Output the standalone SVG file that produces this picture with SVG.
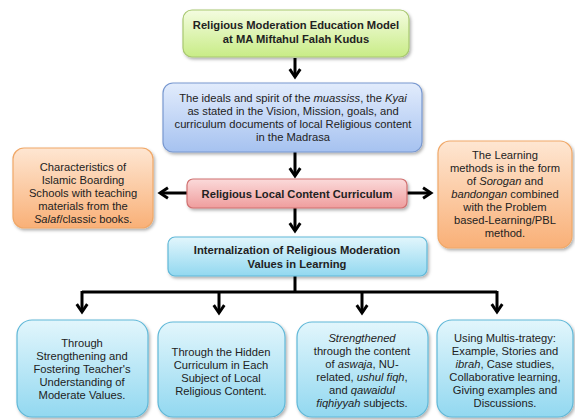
<svg xmlns="http://www.w3.org/2000/svg" width="575" height="420" viewBox="0 0 575 420">
<style>
text{font-family:"Liberation Sans",Arial,sans-serif;font-size:11.2px;fill:#222;text-anchor:middle}
.b{font-weight:bold}
.con{stroke:#000;stroke-width:3;fill:none}
.box{stroke-width:1.2}
</style>
<defs>
<linearGradient id="gG" x1="0" y1="0" x2="0" y2="1"><stop offset="0" stop-color="#f4fce0"/><stop offset="1" stop-color="#c8ec86"/></linearGradient>
<linearGradient id="gB" x1="0" y1="0" x2="0" y2="1"><stop offset="0" stop-color="#e2ecfc"/><stop offset="1" stop-color="#a6c2f0"/></linearGradient>
<linearGradient id="gO" x1="0" y1="0" x2="0" y2="1"><stop offset="0" stop-color="#fee6d2"/><stop offset="1" stop-color="#f9b077"/></linearGradient>
<linearGradient id="gP" x1="0" y1="0" x2="0" y2="1"><stop offset="0" stop-color="#fbdada"/><stop offset="1" stop-color="#ef9d9d"/></linearGradient>
<linearGradient id="gC" x1="0" y1="0" x2="0" y2="1"><stop offset="0" stop-color="#e2f6fc"/><stop offset="1" stop-color="#92d8f0"/></linearGradient>
<filter id="sh" x="-10%" y="-10%" width="125%" height="130%"><feDropShadow dx="1.5" dy="2" stdDeviation="1.5" flood-color="#000" flood-opacity="0.3"/></filter>
<marker id="ah" viewBox="0 0 10 10" refX="8" refY="5" markerWidth="4.4" markerHeight="4.4" orient="auto" markerUnits="strokeWidth"><polyline points="2,1 8,5 2,9" fill="none" stroke="#000" stroke-width="2.2"/></marker>
</defs>

<g id="connectors">
<line class="con" x1="295" y1="58" x2="295" y2="77" marker-end="url(#ah)"/>
<line class="con" x1="295" y1="152" x2="295" y2="176" marker-end="url(#ah)"/>
<line class="con" x1="187" y1="193" x2="160" y2="193" marker-end="url(#ah)"/>
<line class="con" x1="407" y1="193" x2="431" y2="193" marker-end="url(#ah)"/>
<line class="con" x1="295" y1="208" x2="295" y2="231" marker-end="url(#ah)"/>
<polyline class="con" points="295,276 295,292"/>
<polyline class="con" points="82,292 497,292"/>
<line class="con" x1="82" y1="291" x2="82" y2="312" marker-end="url(#ah)"/>
<line class="con" x1="219" y1="291" x2="219" y2="313" marker-end="url(#ah)"/>
<line class="con" x1="362" y1="291" x2="362" y2="313" marker-end="url(#ah)"/>
<line class="con" x1="497" y1="291" x2="497" y2="312" marker-end="url(#ah)"/>
</g>

<g id="title">
<rect class="box" x="183" y="10" width="226" height="47" rx="9" fill="url(#gG)" stroke="#a8c870" filter="url(#sh)"/>
<text class="b" x="296" y="29">Religious Moderation Education Model</text>
<text class="b" x="296" y="43">at MA Miftahul Falah Kudus</text>
</g>

<g id="ideals">
<rect class="box" x="163" y="83" width="259" height="69" rx="10" fill="url(#gB)" stroke="#7898d0" filter="url(#sh)"/>
<text x="293" y="102">The ideals and spirit of the <tspan font-style="italic">muassiss</tspan>, the <tspan font-style="italic">Kyai</tspan></text>
<text x="293" y="115">as stated in the Vision, Mission, goals, and</text>
<text x="293" y="128">curriculum documents of local Religious content</text>
<text x="293" y="141">in the Madrasa</text>
</g>

<g id="characteristics">
<rect class="box" x="13" y="148" width="140" height="80" rx="11" fill="url(#gO)" stroke="#f0a868" filter="url(#sh)"/>
<text x="83" y="171">Characteristics of</text>
<text x="83" y="184">Islamic Boarding</text>
<text x="83" y="197">Schools with teaching</text>
<text x="83" y="210">materials from the</text>
<text x="83" y="223"><tspan font-style="italic">Salaf</tspan>/classic books.</text>
</g>

<g id="methods">
<rect class="box" x="438" y="141" width="134" height="107" rx="12" fill="url(#gO)" stroke="#f0a868" filter="url(#sh)"/>
<text x="505" y="159">The Learning</text>
<text x="505" y="172">methods is in the form</text>
<text x="505" y="185">of <tspan font-style="italic">Sorogan</tspan> and</text>
<text x="505" y="198"><tspan font-style="italic">bandongan</tspan> combined</text>
<text x="505" y="211">with the Problem</text>
<text x="505" y="224">based-Learning/PBL</text>
<text x="505" y="237">method.</text>
</g>

<g id="curriculum">
<rect class="box" x="187" y="179" width="220" height="29" rx="6" fill="url(#gP)" stroke="#d07070" filter="url(#sh)"/>
<text class="b" x="297" y="198">Religious Local Content Curriculum</text>
</g>

<g id="internalization">
<rect class="box" x="168" y="237" width="259" height="39" rx="7" fill="url(#gC)" stroke="#60b8d8" filter="url(#sh)"/>
<text class="b" x="297" y="254">Internalization of Religious Moderation</text>
<text class="b" x="297" y="268">Values in Learning</text>
</g>

<g id="through-strengthening">
<rect class="box" x="17" y="320" width="131" height="97" rx="15" fill="url(#gC)" stroke="#60b8d8" filter="url(#sh)"/>
<text x="82" y="347">Through</text>
<text x="82" y="360">Strengthening and</text>
<text x="82" y="373">Fostering Teacher's</text>
<text x="82" y="386">Understanding of</text>
<text x="82" y="399">Moderate Values.</text>
</g>

<g id="hidden-curriculum">
<rect class="box" x="158" y="322" width="127" height="95" rx="15" fill="url(#gC)" stroke="#60b8d8" filter="url(#sh)"/>
<text x="221" y="356">Through the Hidden</text>
<text x="221" y="369">Curriculum in Each</text>
<text x="221" y="382">Subject of Local</text>
<text x="221" y="395">Religious Content.</text>
</g>

<g id="strengthened">
<rect class="box" x="297" y="322" width="131" height="95" rx="15" fill="url(#gC)" stroke="#60b8d8" filter="url(#sh)"/>
<text x="362" y="342" font-style="italic">Strengthened</text>
<text x="362" y="355">through the content</text>
<text x="362" y="368">of <tspan font-style="italic">aswaja</tspan>, NU-</text>
<text x="362" y="381">related, <tspan font-style="italic">ushul fiqh</tspan>,</text>
<text x="362" y="394">and <tspan font-style="italic">qawaidul</tspan></text>
<text x="362" y="407"><tspan font-style="italic">fiqhiyyah</tspan> subjects.</text>
</g>

<g id="multistrategy">
<rect class="box" x="437" y="320" width="136" height="97" rx="15" fill="url(#gC)" stroke="#60b8d8" filter="url(#sh)"/>
<text x="505" y="342">Using Multis-trategy:</text>
<text x="505" y="355">Example, Stories and</text>
<text x="505" y="368"><tspan font-style="italic">ibrah</tspan>, Case studies,</text>
<text x="505" y="381">Collaborative learning,</text>
<text x="505" y="394">Giving examples and</text>
<text x="505" y="407">Discussions.</text>
</g>
</svg>
